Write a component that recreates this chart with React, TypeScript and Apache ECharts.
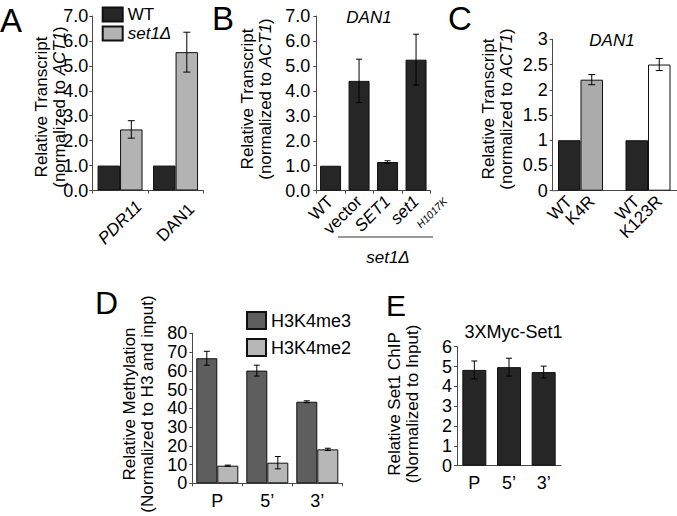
import React, { useEffect, useRef } from 'react';
import * as echarts from 'echarts';

const FONT = '"Liberation Sans", Arial, Helvetica, sans-serif';

// Panel A
const aCategories = ['PDR11', 'DAN1'];
const aWT = [1.0, 1.0];
const aSet1 = [2.45, 5.55];
const aSet1Err = [0.35, 0.8];

// Panel B
const bCategories = ['WT', 'vector', 'SET1', 'set1 H1017K'];
const bValues = [1.0, 4.4, 1.15, 5.25];
const bErr = [0, 0.87, 0.05, 1.02];

// Panel C
const cLabels = ['WT', 'K4R', '', 'WT', 'K123R', ''];
const cValues = [1.0, 2.2, null, 1.0, 2.5, null];
const cErr = [0, 0.1, 0, 0, 0.12, 0];
const cColors = ['#262626', '#ababab', '#ffffff', '#262626', '#ffffff', '#ffffff'];

// Panel D
const dCategories = ['P', '5\u2019', '3\u2019'];
const dMe3 = [66.7, 60.1, 43.5];
const dMe3Err = [3.7, 2.9, 0.5];
const dMe2 = [9.4, 11.0, 18.1];
const dMe2Err = [0.3, 3.3, 0.6];

// Panel E
const eCategories = ['P', '5\u2019', '3\u2019'];
const eValues = [4.83, 4.97, 4.72];
const eErr = [0.45, 0.45, 0.3];

const AXIS_COLOR = '#4a4a4a';

function errorSeries(xi: number, values: (number | null)[], errs: number[], offset: number, cap: number) {
  return {
    type: 'custom',
    xAxisIndex: xi,
    yAxisIndex: xi,
    silent: true,
    z: 10,
    data: values.map((v, i) => [i, v == null ? 0 : v, errs[i]]),
    encode: { x: 0, y: 1 },
    renderItem: (_p: any, api: any) => {
      const i = api.value(0);
      const v = api.value(1);
      const e = api.value(2);
      if (!e) return null;
      const hi = api.coord([i, v + e]);
      const lo = api.coord([i, v - e]);
      const x = hi[0] + offset;
      const style = { stroke: '#000', lineWidth: 1 };
      return {
        type: 'group',
        children: [
          { type: 'line', shape: { x1: x, y1: hi[1], x2: x, y2: lo[1] }, style },
          { type: 'line', shape: { x1: x - cap, y1: hi[1], x2: x + cap, y2: hi[1] }, style },
          { type: 'line', shape: { x1: x - cap, y1: lo[1], x2: x + cap, y2: lo[1] }, style },
        ],
      };
    },
  };
}

function xAxisBase(gi: number, data: string[], extra: any = {}) {
  return {
    type: 'category',
    gridIndex: gi,
    data,
    axisLine: { show: true, lineStyle: { color: AXIS_COLOR, width: 1 } },
    axisTick: { show: true, length: 3, lineStyle: { color: AXIS_COLOR } },
    ...extra,
  };
}

function yAxisBase(gi: number, max: number, interval: number, fmt: (v: number) => string, fontSize: number, margin: number, extra: any = {}) {
  return {
    type: 'value',
    gridIndex: gi,
    min: 0,
    max,
    interval,
    splitLine: { show: false },
    axisLine: { show: true, lineStyle: { color: AXIS_COLOR, width: 1 } },
    axisTick: { show: true, length: 3, lineStyle: { color: AXIS_COLOR } },
    axisLabel: { formatter: fmt, fontSize, fontFamily: FONT, color: '#000', margin },
    ...extra,
  };
}

function yTitle(cx: number, cy: number, text: string, fontSize: number) {
  return {
    type: 'text',
    x: cx,
    y: cy,
    rotation: Math.PI / 2,
    style: {
      text,
      align: 'center',
      verticalAlign: 'middle',
      fill: '#000',
      rich: {
        n: { fontFamily: FONT, fontSize, lineHeight: fontSize + 1, fill: '#000' },
        i: { fontFamily: FONT, fontSize, lineHeight: fontSize + 1, fontStyle: 'italic', fill: '#000' },
      },
    },
  };
}

function letter(x: number, y: number, t: string, size: number) {
  return {
    type: 'text',
    x,
    y,
    style: { text: t, fontFamily: FONT, fontSize: size, fill: '#000', align: 'left', verticalAlign: 'middle' },
  };
}

function label(x: number, y: number, t: string, size: number, italic: boolean) {
  return {
    type: 'text',
    x,
    y,
    style: {
      text: t,
      fontFamily: FONT,
      fontSize: size,
      fontStyle: italic ? 'italic' : 'normal',
      fill: '#000',
      align: 'center',
      verticalAlign: 'middle',
    },
  };
}

const fix1 = (v: number) => v.toFixed(1);
const plain = (v: number) => String(v);

export default function App() {
  const ref = useRef<HTMLDivElement>(null);

  useEffect(() => {
    if (!ref.current) return;
    const chart = echarts.init(ref.current, undefined, { renderer: 'svg' });
    const barBorder = { borderColor: '#111', borderWidth: 1 };
    const g = (left: number, top: number, width: number, height: number) => ({
      left, top, width, height, containLabel: false, outerBoundsMode: 'none',
    });

    const option: any = {
      animation: false,
      backgroundColor: '#fff',
      textStyle: { fontFamily: FONT },
      grid: [
        g(92.3, 16, 111, 174.5),
        g(316.3, 16, 114, 174.7),
        g(558, 39.3, 135, 151.4),
        g(192.3, 333.3, 150, 150),
        g(457, 346.7, 104, 119),
      ],
      legend: [
        {
          left: 101.7,
          top: 6,
          orient: 'vertical',
          icon: 'rect',
          itemWidth: 20,
          itemHeight: 14,
          itemGap: 2,
          padding: 0,
          selectedMode: false,
          data: ['WT', 'set1\u0394'],
          formatter: (n: string) => (n === 'WT' ? '{n|WT}' : '{i|' + n + '}'),
          textStyle: {
            color: '#000',
            rich: {
              n: { fontFamily: FONT, fontSize: 17, lineHeight: 18, color: '#000' },
              i: { fontFamily: FONT, fontSize: 17, lineHeight: 18, fontStyle: 'italic', color: '#000' },
            },
          },
        },
        {
          left: 246,
          top: 311,
          orient: 'vertical',
          icon: 'rect',
          itemWidth: 19,
          itemHeight: 17,
          itemGap: 8,
          padding: 0,
          selectedMode: false,
          data: ['H3K4me3', 'H3K4me2'],
          textStyle: { color: '#000', fontFamily: FONT, fontSize: 18 },
        },
      ],
      xAxis: [
        xAxisBase(0, aCategories, {
          axisLabel: {
            rotate: 45,
            margin: 32,
            interval: 0,
            align: 'center',
            verticalAlign: 'middle',
            formatter: (v: string) => (v === 'PDR11' ? '{i|' + v + '}' : '{n|' + v + '}'),
            rich: {
              n: { fontFamily: FONT, fontSize: 17, color: '#000' },
              i: { fontFamily: FONT, fontSize: 17, fontStyle: 'italic', color: '#000' },
            },
          },
        }),
        xAxisBase(1, bCategories, {
          axisLabel: {
            rotate: 45,
            margin: 8,
            interval: 0,
            formatter: (v: string) => {
              if (v === 'SET1') return '{i|SET1}';
              if (v === 'set1 H1017K') return '{i|set1}';
              return '{n|' + v + '}';
            },
            rich: {
              n: { fontFamily: FONT, fontSize: 17, color: '#000' },
              i: { fontFamily: FONT, fontSize: 17, fontStyle: 'italic', color: '#000' },
            },
          },
        }),
        xAxisBase(2, cLabels.map((_, i) => 'c' + i), {
          axisTick: { show: false },
          axisLabel: {
            rotate: 45,
            margin: 8,
            interval: 0,
            formatter: (_v: string, i: number) => cLabels[i],
            fontFamily: FONT,
            fontSize: 17,
            color: '#000',
          },
        }),
        xAxisBase(3, dCategories, {
          axisLabel: { margin: 9, fontFamily: FONT, fontSize: 18, color: '#000' },
        }),
        xAxisBase(4, eCategories, {
          axisTick: { show: false },
          axisLabel: { margin: 8, fontFamily: FONT, fontSize: 18, color: '#000' },
        }),
      ],
      yAxis: [
        yAxisBase(0, 7, 1, fix1, 18, 4),
        yAxisBase(1, 7, 1, fix1, 18, 6),
        yAxisBase(2, 3, 0.5, plain, 18, 5, { offset: 5.3 }),
        yAxisBase(3, 80, 10, plain, 18, 5),
        yAxisBase(4, 6, 1, plain, 18, 5),
      ],
      series: [
        {
          type: 'bar', name: 'WT', xAxisIndex: 0, yAxisIndex: 0, data: aWT,
          barWidth: 22.5, barGap: '0%', itemStyle: { color: '#262626', ...barBorder },
        },
        {
          type: 'bar', name: 'set1\u0394', xAxisIndex: 0, yAxisIndex: 0, data: aSet1,
          barWidth: 22.5, barGap: '0%', itemStyle: { color: '#b3b3b3', ...barBorder },
        },
        errorSeries(0, aSet1, aSet1Err, 11.25, 3.5),
        {
          type: 'bar', name: 'B', xAxisIndex: 1, yAxisIndex: 1, data: bValues,
          barWidth: 21, itemStyle: { color: '#262626', ...barBorder },
        },
        errorSeries(1, bValues, bErr, 0, 3),
        {
          type: 'bar', name: 'C', xAxisIndex: 2, yAxisIndex: 2,
          data: cValues.map((v, i) => (v == null ? '-' : { value: v, itemStyle: { color: cColors[i] } })),
          barWidth: 22.5, itemStyle: { color: '#262626', ...barBorder },
        },
        errorSeries(2, cValues, cErr, 0, 3.5),
        {
          type: 'bar', name: 'H3K4me3', xAxisIndex: 3, yAxisIndex: 3, data: dMe3,
          barWidth: 21, barGap: '0%', itemStyle: { color: '#5e5e5e', ...barBorder },
        },
        {
          type: 'bar', name: 'H3K4me2', xAxisIndex: 3, yAxisIndex: 3, data: dMe2,
          barWidth: 21, barGap: '0%', itemStyle: { color: '#b7b7b7', ...barBorder },
        },
        errorSeries(3, dMe3, dMe3Err, -10.5, 3),
        errorSeries(3, dMe2, dMe2Err, 10.5, 3),
        {
          type: 'bar', name: 'E', xAxisIndex: 4, yAxisIndex: 4, data: eValues,
          barWidth: 24, itemStyle: { color: '#262626', ...barBorder },
        },
        errorSeries(4, eValues, eErr, 0, 3),
      ],
      graphic: [
        letter(0, 20, 'A', 33),
        letter(212, 18, 'B', 33),
        letter(448, 18, 'C', 33),
        letter(95, 303, 'D', 32),
        letter(386, 305, 'E', 30),
        yTitle(50, 107, '{n|Relative Transcript}\n{n|(normalized to }{i|ACT1}{n|)}', 17),
        yTitle(256, 99, '{n|Relative Transcript}\n{n|(normalized to }{i|ACT1}{n|)}', 17),
        yTitle(497, 109, '{n|Relative Transcript}\n{n|(normalized to }{i|ACT1}{n|)}', 17),
        yTitle(138, 404, '{n|Relative Methylation}\n{n|(Normalized to H3 and input)}', 17),
        yTitle(403, 404, '{n|Relative Set1 ChIP}\n{n|(Normalized to Input)}', 17),
        label(369, 17, 'DAN1', 17, true),
        label(612, 40, 'DAN1', 17, true),
        label(513.5, 332, '3XMyc-Set1', 18, false),
        {
          type: 'text',
          x: 432,
          y: 213,
          rotation: Math.PI / 4,
          style: {
            text: 'H1017K', fontFamily: FONT, fontSize: 10.5, fontStyle: 'italic', fill: '#000',
            align: 'center', verticalAlign: 'middle',
          },
        },
        {
          type: 'line',
          shape: { x1: 338, y1: 237, x2: 433, y2: 237 },
          style: { stroke: '#777', lineWidth: 1.5 },
        },
        label(388, 257, 'set1\u0394', 17, true),
        {
          type: 'line',
          shape: { x1: 552.7, y1: 190.7, x2: 558, y2: 190.7 },
          style: { stroke: AXIS_COLOR, lineWidth: 1 },
        },
      ],
    };

    chart.setOption(option);
    return () => chart.dispose();
  }, []);

  return (
    <div
      ref={ref}
      style={{ position: 'absolute', left: 0, top: 0, width: 677, height: 516, background: '#fff' }}
    />
  );
}
